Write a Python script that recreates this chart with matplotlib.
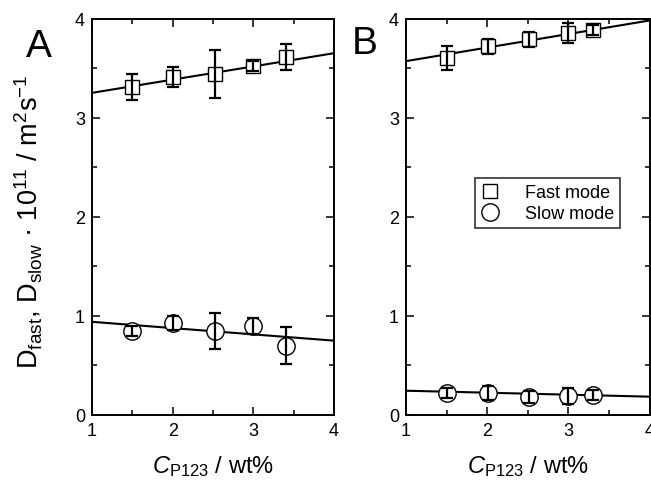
import matplotlib
matplotlib.use("Agg")
import matplotlib.pyplot as plt
from matplotlib.ticker import MultipleLocator

plt.rcParams['font.family'] = ['Liberation Sans', 'DejaVu Sans']
plt.rcParams['mathtext.fontset'] = 'custom'
plt.rcParams['mathtext.rm'] = 'Liberation Sans'
plt.rcParams['mathtext.it'] = 'Liberation Sans:italic'
plt.rcParams['mathtext.bf'] = 'Liberation Sans:bold'

# ---- data ----
# Panel A
a_fast_x = [1.5, 2.0, 2.53, 3.0, 3.41]
a_fast_y = [3.31, 3.41, 3.44, 3.52, 3.61]
a_fast_err = [0.13, 0.10, 0.24, 0.05, 0.13]
a_slow_x = [1.5, 2.0, 2.53, 3.0, 3.41]
a_slow_y = [0.85, 0.93, 0.845, 0.90, 0.70]
a_slow_err = [0.05, 0.07, 0.18, 0.08, 0.19]
a_fit_fast = [3.25, 3.65]
a_fit_slow = [0.94, 0.75]

# Panel B
b_fast_x = [1.5, 2.01, 2.52, 2.99, 3.30]
b_fast_y = [3.60, 3.72, 3.79, 3.85, 3.88]
b_fast_err = [0.12, 0.075, 0.075, 0.10, 0.05]
b_slow_x = [1.5, 2.01, 2.52, 2.99, 3.30]
b_slow_y = [0.22, 0.225, 0.18, 0.195, 0.20]
b_slow_err = [0.05, 0.07, 0.06, 0.08, 0.05]
b_fit_fast = [3.57, 3.98]
b_fit_slow = [0.245, 0.185]

fit_x = [1, 4]
x_ticks = [1, 2, 3, 4]
y_ticks = [0, 1, 2, 3, 4]

fig = plt.figure(figsize=(6.51, 4.85), dpi=100)
axA = fig.add_axes([92/651, 1-416/485, 242/651, 396.5/485])
axB = fig.add_axes([406/651, 1-416/485, 243.5/651, 396.5/485])

def draw(ax, fx, fy, fe, sx, sy, se, ffit, sfit):
    ax.plot(fit_x, ffit, color='black', lw=1.5, zorder=1)
    ax.plot(fit_x, sfit, color='black', lw=1.5, zorder=1)
    ax.plot(fx, fy, ls='none', marker='s', ms=9.7, mfc='white', mec='black',
            mew=1.0, zorder=2, label='Fast mode')
    ax.plot(sx, sy, ls='none', marker='o', ms=12.5, mfc='white', mec='black',
            mew=1.0, zorder=2, label='Slow mode')
    ax.errorbar(fx, fy, yerr=fe, fmt='none', ecolor='black', elinewidth=1.6,
                capsize=4, capthick=1.6, zorder=3)
    ax.errorbar(sx, sy, yerr=se, fmt='none', ecolor='black', elinewidth=1.6,
                capsize=4, capthick=1.6, zorder=3)
    ax.set_xlim(1, 4)
    ax.set_ylim(0, 4)
    ax.set_xticks(x_ticks)
    ax.set_yticks(y_ticks)
    ax.xaxis.set_minor_locator(MultipleLocator(0.5))
    ax.yaxis.set_minor_locator(MultipleLocator(0.5))
    ax.tick_params(which='both', direction='in', top=True, right=True,
                   labelsize=13, width=1.1, pad=5)
    ax.tick_params(which='major', length=5.5)
    ax.tick_params(which='minor', length=3.3)
    for s in ax.spines.values():
        s.set_linewidth(1.4)
    ax.set_xlabel(r'$C_{\mathrm{P123}}$ / wt%', fontsize=17, labelpad=10)

draw(axA, a_fast_x, a_fast_y, a_fast_err, a_slow_x, a_slow_y, a_slow_err,
     a_fit_fast, a_fit_slow)
draw(axB, b_fast_x, b_fast_y, b_fast_err, b_slow_x, b_slow_y, b_slow_err,
     b_fit_fast, b_fit_slow)

axA.set_ylabel(r'D$_{\mathrm{fast}}$, D$_{\mathrm{slow}}$ · 10$^{11}$ / m$^{2}$s$^{-1}$',
               fontsize=19.5)
axA.yaxis.set_label_coords((45-92)/242, (416-222)/396.5)

leg = axB.legend(loc='upper left', bbox_to_anchor=((475-406)/243.5, 1-(179-19.5)/396.5),
                 fontsize=13, frameon=True, fancybox=False, edgecolor='black',
                 handlelength=1.0, handletextpad=1.4, borderpad=0.35,
                 labelspacing=0.2, borderaxespad=0)
leg.get_frame().set_linewidth(1.2)

fig.text(39/651, 1-47/485, 'A', fontsize=28, ha='center', va='center')
fig.text(365/651, 1-44/485, 'B', fontsize=28, ha='center', va='center')

fig.savefig('out.png', dpi=100)
